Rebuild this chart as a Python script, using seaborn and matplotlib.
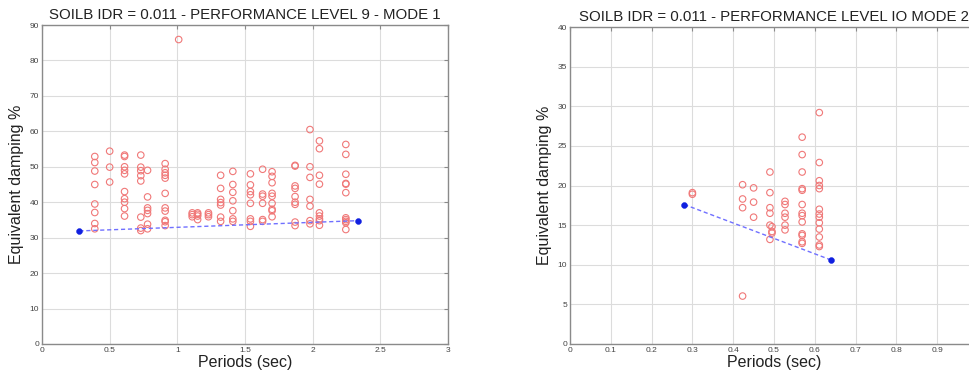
import numpy as np
import pandas as pd
import matplotlib
matplotlib.use("Agg")
import matplotlib.pyplot as plt
import seaborn as sns

# Mode 1 - periods (sec) of each column of results and the damping values (%) at each
mode1_periods = [0.39, 0.50, 0.61, 0.73, 0.78, 0.91, 1.01, 1.11, 1.15, 1.23,
                 1.32, 1.41, 1.54, 1.63, 1.70, 1.87, 1.98, 2.05, 2.245]
mode1_damping = [
    [52.9, 51.2, 48.8, 45.0, 39.5, 37.1, 34.0, 32.5],
    [54.4, 49.9, 45.7],
    [53.3, 52.9, 50.0, 49.0, 48.0, 43.0, 41.0, 40.0, 38.2, 36.1],
    [53.3, 49.9, 48.9, 47.5, 46.0, 35.8, 32.7, 32.0],
    [49.0, 41.5, 38.4, 37.7, 36.8, 33.8, 32.5],
    [50.9, 49.3, 48.3, 47.6, 46.8, 42.5, 38.4, 37.5, 34.9, 34.5, 33.4],
    [85.9],
    [37.0, 36.5, 35.9],
    [37.0, 36.6, 36.1, 35.1],
    [37.0, 36.5, 35.9],
    [47.6, 43.9, 40.8, 39.9, 39.2, 35.8, 34.6],
    [48.7, 45.0, 42.8, 40.4, 37.6, 35.3, 34.6],
    [48.0, 44.9, 43.0, 42.1, 39.7, 35.3, 34.6, 33.2],
    [49.3, 42.3, 41.7, 39.7, 35.1, 34.6],
    [48.6, 47.3, 45.5, 42.5, 41.7, 39.7, 38.0, 37.6, 35.9],
    [50.4, 50.2, 44.6, 43.9, 41.6, 40.0, 39.4, 34.4, 33.4],
    [60.5, 50.0, 47.0, 40.8, 38.9, 34.8, 33.9],
    [57.3, 55.1, 47.6, 45.1, 37.0, 36.1, 35.3, 34.8, 33.5],
    [56.3, 53.5, 47.9, 45.3, 45.1, 42.7, 35.6, 35.1, 34.6, 34.2, 32.3],
]
mode1_fit_periods = [0.276, 2.338]
mode1_fit_damping = [31.9, 34.8]

# Mode 2
mode2_periods = [0.30, 0.423, 0.45, 0.49, 0.495, 0.527, 0.569, 0.611]
mode2_damping = [
    [19.1, 18.9],
    [20.1, 18.3, 17.2, 6.05],
    [19.7, 17.9, 16.0],
    [21.7, 19.1, 17.2, 16.5, 15.0, 13.2],
    [14.8, 14.2, 14.0],
    [18.0, 17.6, 16.5, 16.0, 15.0, 14.4],
    [26.1, 23.9, 21.7, 19.6, 19.4, 17.6, 16.5, 16.2, 15.4, 13.9, 13.7, 12.9, 12.7],
    [29.2, 22.9, 20.6, 20.0, 19.6, 17.0, 16.4, 16.0, 15.3, 14.5, 13.5, 12.5, 12.3],
]
mode2_fit_periods = [0.28, 0.64]
mode2_fit_damping = [17.6, 10.6]


def to_frame(periods, damping):
    rows = []
    for p, vals in zip(periods, damping):
        for v in vals:
            rows.append({"period": p, "damping": v})
    return pd.DataFrame(rows)


sns.set_style("white")
plt.rcParams['font.family'] = ['Liberation Sans', 'DejaVu Sans']

fig = plt.figure(figsize=(9.7, 3.79), dpi=100)
ax1 = fig.add_axes([42 / 970, 35 / 379, 406 / 970, 319 / 379])
# right panel runs past the figure edge, as in the reference crop
ax2 = fig.add_axes([570 / 970, 35 / 379, 408 / 970, 317 / 379])

panels = [
    (ax1, mode1_periods, mode1_damping, mode1_fit_periods, mode1_fit_damping,
     "SOILB IDR = 0.011 - PERFORMANCE LEVEL 9 - MODE 1", (0, 3), np.arange(0, 3.01, 0.5), (0, 90), np.arange(0, 91, 10)),
    (ax2, mode2_periods, mode2_damping, mode2_fit_periods, mode2_fit_damping,
     "SOILB IDR = 0.011 - PERFORMANCE LEVEL IO MODE 2", (0, 1), np.arange(0, 0.95, 0.1), (0, 40), np.arange(0, 41, 5)),
]

for ax, per, damp, fper, fdamp, title, xlim, xticks, ylim, yticks in panels:
    df = to_frame(per, damp)
    sns.scatterplot(data=df, x="period", y="damping", ax=ax, marker="o",
                    facecolor="none", edgecolor="#f07878", linewidth=0.8, s=22, zorder=3)
    fit = pd.DataFrame({"period": fper, "damping": fdamp})
    sns.lineplot(data=fit, x="period", y="damping", ax=ax, color="#7070ff",
                 linestyle=(0, (3, 2)), linewidth=1.0, zorder=4)
    sns.scatterplot(data=fit, x="period", y="damping", ax=ax, color="#1020e0",
                    edgecolor="#1020e0", s=18, zorder=5)
    ax.set_xlim(*xlim)
    ax.set_ylim(*ylim)
    ax.set_xticks(xticks)
    ax.set_yticks(yticks)
    ax.set_xticklabels([f"{t:g}" for t in np.round(xticks, 2)])
    ax.set_yticklabels([f"{t:g}" for t in yticks])
    ax.grid(True, color="#dcdcdc", linewidth=0.8)
    ax.set_axisbelow(True)
    for s in ax.spines.values():
        s.set_color("#8a8a8a")
        s.set_linewidth(1.0)
    ax.tick_params(direction="in", length=3, labelsize=6, colors="#8a8a8a",
                   labelcolor="#444444", pad=2, top=True, right=True)
    ax.set_title(title, fontsize=10.8, color="#222222", pad=4)
    ax.set_xlabel("Periods (sec)", fontsize=11.5, color="#222222", labelpad=1)
    ax.set_ylabel("Equivalent damping %", fontsize=11.5, color="#222222", labelpad=4)

fig.savefig("out.png", dpi=100, facecolor="white")
